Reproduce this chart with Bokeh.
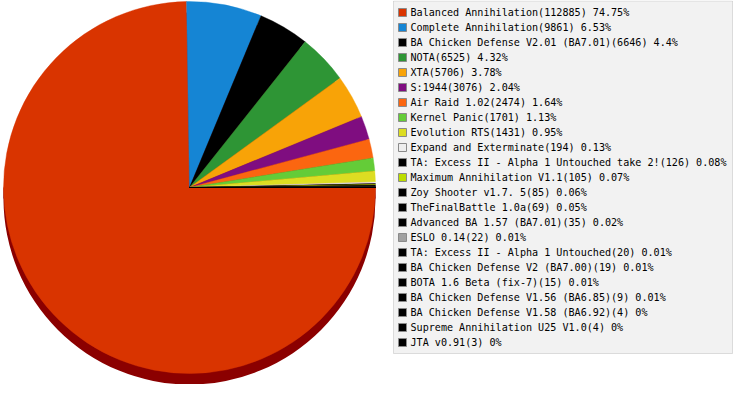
from bokeh.plotting import figure
from bokeh.models import ColumnDataSource, Range1d, BoxAnnotation
from bokeh.transform import cumsum
from bokeh.core.properties import value
from bokeh.embed import file_html
from bokeh.resources import INLINE
import math

names = [
    "Balanced Annihilation", "Complete Annihilation", "BA Chicken Defense V2.01 (BA7.01)",
    "NOTA", "XTA", "S:1944", "Air Raid 1.02", "Kernel Panic", "Evolution RTS",
    "Expand and Exterminate", "TA: Excess II - Alpha 1 Untouched take 2!",
    "Maximum Annihilation V1.1", "Zoy Shooter v1.7. 5", "TheFinalBattle 1.0a",
    "Advanced BA 1.57 (BA7.01)", "ESLO 0.14", "TA: Excess II - Alpha 1 Untouched",
    "BA Chicken Defense V2 (BA7.00)", "BOTA 1.6 Beta (fix-7)",
    "BA Chicken Defense V1.56 (BA6.85)", "BA Chicken Defense V1.58 (BA6.92)",
    "Supreme Annihilation U25 V1.0", "JTA v0.91",
]
counts = [112885, 9861, 6646, 6525, 5706, 3076, 2474, 1701, 1431, 194, 126,
          105, 85, 69, 35, 22, 20, 19, 15, 9, 4, 4, 3]
colors = ["#d93400", "#1585d4", "#000000", "#2e9535", "#f8a307", "#7f0d80",
          "#fb6610", "#64cc38", "#dddd22", "#eeeeee", "#000000", "#bcdd00",
          "#000000", "#000000", "#000000", "#a0a0a0", "#000000", "#000000",
          "#000000", "#000000", "#000000", "#000000", "#000000"]

W, H = 733, 384
total = sum(counts)
pcts = [round(c / total * 100, 2) for c in counts]
labels = [f"{n}({c}) {p:g}%" for n, c, p in zip(names, counts, pcts)]
angles = [-c / total * 2 * math.pi for c in counts]

# pie geometry (screen px == data units)
cx, cy, r, depth = 189, H - 187, 186, 11

src = ColumnDataSource(dict(name=names, count=counts, color=colors, angle=angles))

p = figure(width=W, height=H, x_range=Range1d(0, W), y_range=Range1d(0, H),
           output_backend="svg", toolbar_location=None, min_border=0,
           background_fill_color="white", border_fill_color="white")
p.axis.visible = False
p.grid.visible = False
p.outline_line_color = None

# 3D side wall
p.quad(left=[cx - r], right=[cx + r], bottom=[cy - depth], top=[cy],
       fill_color="#8b0000", line_color=None)
p.circle(x=[cx], y=[cy - depth], radius=r, fill_color="#8b0000", line_color=None)

# top face
p.wedge(x=cx, y=cy, radius=r,
        start_angle=cumsum("angle", include_zero=True), end_angle=cumsum("angle"),
        direction="clock", fill_color="color", line_color="color", line_width=0.4,
        source=src)

# legend
lx0, lx1, ly_top = 393, 732, H
n = len(names)
row_h = 15
ly_bot = ly_top - 353
p.add_layout(BoxAnnotation(left=lx0, right=lx1, bottom=ly_bot, top=ly_top - 0.5,
                           fill_color="#f2f2f2", fill_alpha=1.0,
                           line_color="#999999", line_width=1, level="underlay"))
rows = list(range(n))
leg = ColumnDataSource(dict(
    x=[lx0 + 9] * n,
    tx=[lx0 + 17] * n,
    y=[ly_top - 12 - row_h * i for i in rows],
    color=colors, label=labels))
p.rect(x="x", y="y", width=8, height=8, fill_color="color", line_color="#8a8a8a",
       line_width=1, source=leg)
p.text(x="tx", y="y", text="label", text_font=value("DejaVu Sans Mono"),
       text_font_size="10.1px", text_baseline="middle", text_color="#000000", source=leg)

open("out.html", "w").write(file_html(p, INLINE))
